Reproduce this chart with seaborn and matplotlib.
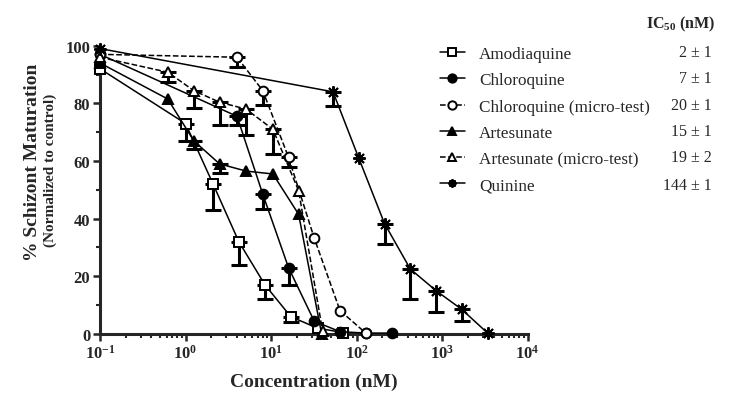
import numpy as np
import pandas as pd
import matplotlib
matplotlib.use("Agg")
import matplotlib.pyplot as plt
import seaborn as sns
from matplotlib.ticker import LogLocator, FuncFormatter, MultipleLocator, NullFormatter

# values (concentration in nM, % maturation, lower error)
amod_x = [0.1, 1.0, 2.1, 4.2, 8.5, 17, 35, 69]
amod_y = [92, 73, 52, 32, 17, 6, 2, 0.5]
amod_err = [0, 6, 9, 8, 5, 2, 0, 0]

chlq_x = [0.1, 4, 8, 16, 32, 64, 128, 256]
chlq_y = [97, 75.5, 48.5, 23, 4.4, 0.8, 0.3, 0.3]
chlq_err = [0, 3, 5, 6, 0, 0, 0, 0]

chlqm_x = [0.1, 4, 8, 16, 32, 64, 128]
chlqm_y = [97, 96, 84.4, 61.3, 33.2, 8.1, 0.3]
chlqm_err = [0, 3.5, 5, 3.5, 0, 0, 0]

arte_x = [0.1, 0.62, 1.25, 2.5, 5.1, 10.5, 21, 39]
arte_y = [94, 81.5, 67, 59, 56.5, 55.5, 41.5, 0]
arte_err = [0, 0, 3, 3, 0, 0, 0, 0]

artem_x = [0.1, 0.62, 1.25, 2.5, 5.1, 10.5, 21, 40]
artem_y = [96, 90.8, 84.4, 80.4, 78, 71, 49.7, 1]
artem_err = [0, 3.5, 6, 8, 9, 8.7, 0, 0]

quin_x = [0.1, 53, 106, 212, 425, 850, 1700, 3400]
quin_y = [99, 84, 61, 38.3, 22.5, 15, 8.5, 0.3]
quin_err = [0, 5, 0, 7, 10.5, 7.5, 4, 0]

names = ["Amodiaquine", "Chloroquine", "Chloroquine (micro-test)",
         "Artesunate", "Artesunate (micro-test)", "Quinine"]
ic50 = ["2 \u00b1 1", "7 \u00b1 1", "20 \u00b1 1", "15 \u00b1 1", "19 \u00b1 2", "144 \u00b1 1"]

series = [
    (amod_x, amod_y, amod_err, "s", "white", "-"),
    (chlq_x, chlq_y, chlq_err, "o", "black", "-"),
    (chlqm_x, chlqm_y, chlqm_err, "o", "white", "--"),
    (arte_x, arte_y, arte_err, "^", "black", "-"),
    (artem_x, artem_y, artem_err, "^", "white", "--"),
    (quin_x, quin_y, quin_err, (8, 2, 0), "black", "-"),
]

sns.set_style("ticks")
plt.rcParams["font.family"] = ["Liberation Serif", "DejaVu Serif"]
plt.rcParams["mathtext.fontset"] = "custom"
plt.rcParams["mathtext.rm"] = "Liberation Serif"
plt.rcParams["mathtext.bf"] = "Liberation Serif:bold"

fig = plt.figure(figsize=(7.49, 4.06), dpi=100)
ax = fig.add_axes([0.1335, 0.175, 0.571, 0.71])

handles = []
for (x, y, err, mk, fc, ls), name in zip(series, names):
    df = pd.DataFrame({"conc": x, "mat": y})
    sns.lineplot(data=df, x="conc", y="mat", ax=ax, estimator=None, sort=False,
                 color="black", linestyle=ls, linewidth=1.1, marker=mk,
                 markersize=7 if mk != (8, 2, 0) else 9,
                 markerfacecolor=fc, markeredgecolor="black", markeredgewidth=1.4,
                 clip_on=False, zorder=3)
    handles.append(ax.lines[-1])
    e = np.array(err)
    keep = e > 0
    if keep.any():
        xs = np.array(x)[keep]
        ys = np.array(y)[keep]
        ax.errorbar(xs, ys, yerr=[e[keep], np.zeros(keep.sum())], fmt="none",
                    ecolor="black", elinewidth=2.2, capsize=5.5, capthick=2.2,
                    clip_on=False, zorder=2)

ax.set_xscale("log")
ax.set_xlim(0.1, 1e4)
ax.set_ylim(0, 100)
ax.xaxis.set_major_locator(LogLocator(base=10, numticks=10))
ax.xaxis.set_minor_locator(LogLocator(base=10, subs=np.arange(2, 10), numticks=20))
ax.xaxis.set_minor_formatter(NullFormatter())
ax.xaxis.set_major_formatter(FuncFormatter(
    lambda v, p: r"$\mathbf{10^{%d}}$" % int(round(np.log10(v)))))
ax.yaxis.set_major_locator(MultipleLocator(20))
ax.yaxis.set_minor_locator(MultipleLocator(10))

sns.despine(ax=ax)
for s in ("left", "bottom"):
    ax.spines[s].set_linewidth(2.2)
ax.tick_params(which="major", length=5, width=1.8, labelsize=12, pad=2)
ax.tick_params(which="minor", length=3, width=1.5)
for lbl in ax.get_yticklabels():
    lbl.set_fontweight("bold")

ax.set_xlabel("Concentration (nM)", fontsize=14, fontweight="bold", labelpad=8)
ax.set_ylabel("")
fig.text(0.043, 0.6, "% Schizont Maturation", rotation=90, fontsize=14,
         fontweight="bold", ha="center", va="center")
fig.text(0.067, 0.58, "(Normalized to control)", rotation=90, fontsize=11,
         fontweight="bold", ha="center", va="center")

leg = fig.legend(handles, names, loc="upper left", bbox_to_anchor=(0.587, 0.884),
                 frameon=False, fontsize=12.3, handlelength=1.5, handletextpad=0.8,
                 labelspacing=0.6, borderpad=0, borderaxespad=0)
for h in leg.legend_handles:
    h.set_markersize(6)

fig.text(0.909, 0.94, r"IC$_{\mathbf{50}}$ (nM)", fontsize=11.5, fontweight="bold",
         ha="center", va="center")
row_y = [53, 79, 106, 132, 158, 186]
for val, yy in zip(ic50, row_y):
    fig.text(712 / 749, 1 - yy / 406, val, fontsize=11.5, ha="right", va="center")

fig.savefig("out.png", dpi=100)
